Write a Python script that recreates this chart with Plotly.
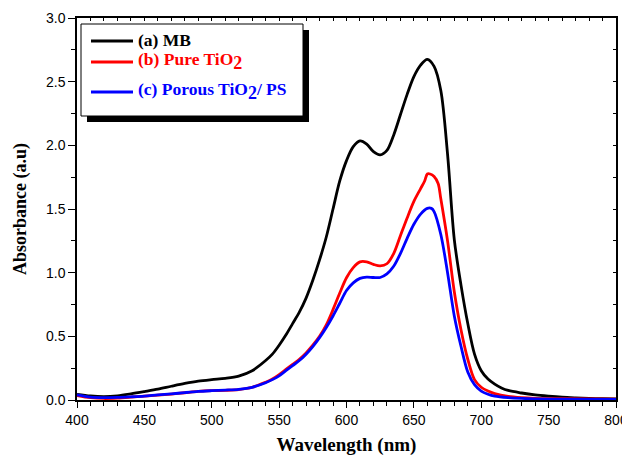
import plotly.graph_objects as go

# wavelength grids (nm) and absorbance values
wl_mb = [400, 410, 420, 430, 440, 450, 460, 470, 480, 490, 500, 510, 520, 530, 540, 545,
         550, 555, 560, 565, 570, 575, 580, 585, 590, 595, 600, 605, 610, 615, 620, 625,
         630, 635, 640, 645, 650, 655, 660, 665, 670, 675, 680, 685, 690, 695, 700, 705,
         710, 715, 720, 730, 740, 750, 760, 770, 780, 790, 800]
abs_mb = [0.045, 0.032, 0.027, 0.033, 0.048, 0.066, 0.085, 0.108, 0.13, 0.148, 0.16, 0.17,
          0.188, 0.23, 0.31, 0.36, 0.43, 0.51, 0.60, 0.69, 0.80, 0.94, 1.10, 1.28, 1.50,
          1.72, 1.88, 1.99, 2.035, 2.01, 1.95, 1.925, 1.96, 2.08, 2.24, 2.40, 2.54, 2.63,
          2.675, 2.62, 2.43, 1.93, 1.26, 0.90, 0.60, 0.36, 0.23, 0.165, 0.125, 0.095, 0.075,
          0.055, 0.04, 0.03, 0.022, 0.017, 0.013, 0.01, 0.008]

wl_pure = [400, 410, 420, 430, 440, 450, 460, 470, 480, 490, 500, 510, 520, 530, 540, 545,
           550, 555, 560, 565, 570, 575, 580, 585, 590, 595, 600, 605, 610, 615, 620, 625,
           630, 635, 640, 645, 650, 655, 658, 660, 662, 665, 668, 670, 675, 680, 685, 690,
           695, 700, 705, 710, 720, 730, 740, 760, 800]
abs_pure = [0.035, 0.018, 0.012, 0.015, 0.022, 0.03, 0.038, 0.047, 0.057, 0.067, 0.073, 0.076,
            0.082, 0.10, 0.14, 0.165, 0.20, 0.24, 0.28, 0.32, 0.37, 0.43, 0.50, 0.59, 0.71,
            0.84, 0.96, 1.04, 1.085, 1.085, 1.065, 1.053, 1.07, 1.15, 1.29, 1.43, 1.56, 1.66,
            1.72, 1.775, 1.775, 1.755, 1.70, 1.58, 1.25, 0.85, 0.55, 0.32, 0.16, 0.10, 0.07,
            0.05, 0.028, 0.018, 0.013, 0.01, 0.006]

wl_porous = [400, 410, 420, 430, 440, 450, 460, 470, 480, 490, 500, 510, 520, 530, 540, 545,
             550, 555, 560, 565, 570, 575, 580, 585, 590, 595, 600, 605, 610, 615, 620, 625,
             630, 635, 640, 645, 650, 655, 660, 663, 665, 670, 675, 680, 685, 690, 695, 700,
             705, 710, 720, 730, 740, 760, 800]
abs_porous = [0.04, 0.022, 0.018, 0.02, 0.025, 0.031, 0.04, 0.048, 0.058, 0.067, 0.073, 0.078,
              0.084, 0.10, 0.135, 0.16, 0.19, 0.23, 0.27, 0.31, 0.36, 0.42, 0.49, 0.57, 0.66,
              0.76, 0.86, 0.92, 0.955, 0.965, 0.962, 0.962, 0.99, 1.05, 1.15, 1.27, 1.38, 1.46,
              1.505, 1.505, 1.48, 1.30, 1.00, 0.66, 0.42, 0.22, 0.12, 0.07, 0.045, 0.03, 0.018,
              0.012, 0.009, 0.007, 0.005]

SUB2 = "<sub><span style='font-size:18px'>2</span></sub>"
labels = ["(a) MB", "(b) Pure TiO" + SUB2, "(c) Porous TiO" + SUB2 + "/ PS"]
colors = ["#000000", "#ff0000", "#0000ff"]

SERIF = "Liberation Serif"
SANS = "Liberation Sans"

# the page body has an 8px margin, so the figure is drawn 8px in from the corner
OFF = 8
FIG_W, FIG_H = 630 - OFF, 456 - OFF
# plot area in screen pixels (used to place the hand-made legend box)
L, T, W, H = 77, 18, 539, 382


def px(x):
    return (x - L) / W


def py(y):
    return (T + H - y) / H


fig = go.Figure()
for wl, ab, lab, col in zip([wl_mb, wl_pure, wl_porous], [abs_mb, abs_pure, abs_porous],
                            labels, colors):
    fig.add_trace(go.Scatter(x=wl, y=ab, mode="lines", name=lab, showlegend=False,
                             line=dict(color=col, width=2.8, shape="spline", smoothing=0.9)))
# invisible trace so that the mirrored top/right axes are drawn
fig.add_trace(go.Scatter(x=[400], y=[0], xaxis="x2", yaxis="y2", mode="markers",
                         marker=dict(opacity=0), showlegend=False, hoverinfo="skip"))

axis_common = dict(showline=True, linecolor="black", linewidth=1.5, showgrid=False,
                   zeroline=False, tickcolor="black", tickwidth=1.2, automargin=False)

# legend: shadow, box, line samples and coloured labels
shapes = [
    dict(type="rect", xref="paper", yref="paper", layer="above",
         x0=px(87), x1=px(309), y0=py(122), y1=py(30),
         fillcolor="black", line=dict(width=0)),
    dict(type="rect", xref="paper", yref="paper", layer="above",
         x0=px(81), x1=px(303), y0=py(116), y1=py(24),
         fillcolor="white", line=dict(color="black", width=1)),
]
annotations = []
for lab, col, yy in zip(labels, colors, [41, 62, 92]):
    shapes.append(dict(type="line", xref="paper", yref="paper", layer="above",
                       x0=px(91), x1=px(133), y0=py(yy), y1=py(yy),
                       line=dict(color=col, width=3)))
    annotations.append(dict(text="<b>" + lab + "</b>", xref="paper", yref="paper",
                            x=px(136), y=py(yy - 1), xanchor="left", yanchor="middle",
                            showarrow=False,
                            font=dict(family=SERIF, size=17.5, color=col)))

fig.update_layout(
    width=FIG_W, height=FIG_H,
    margin=dict(l=L - OFF, r=FIG_W - (L - OFF) - W, t=T - OFF, b=FIG_H - (T - OFF) - H),
    plot_bgcolor="white", paper_bgcolor="white",
    font=dict(family=SANS, size=14, color="black"),
    xaxis=dict(range=[400, 800], tick0=400, dtick=50, ticks="outside", ticklen=6,
               minor=dict(dtick=10, ticks="outside", ticklen=4, tickcolor="black"),
               tickfont=dict(family=SANS, size=14),
               title=dict(text="<b>Wavelength (nm)</b>", font=dict(family=SERIF, size=19),
                          standoff=12),
               **axis_common),
    yaxis=dict(range=[0, 3.0], tick0=0, dtick=0.5, tickformat=".1f", ticks="outside",
               ticklen=7,
               minor=dict(dtick=0.25, ticks="outside", ticklen=4, tickcolor="black"),
               tickfont=dict(family=SANS, size=14),
               title=dict(text="<b>Absorbance (a.u)</b>", font=dict(family=SERIF, size=18),
                          standoff=15),
               **axis_common),
    xaxis2=dict(overlaying="x", side="top", range=[400, 800], tick0=400, dtick=10,
                ticks="inside", ticklen=3, showticklabels=False, **axis_common),
    yaxis2=dict(overlaying="y", side="right", range=[0, 3.0], tick0=0, dtick=0.25,
                ticks="inside", ticklen=3, showticklabels=False, **axis_common),
    shapes=shapes,
    annotations=annotations,
    showlegend=False,
)

fig.write_html("out.html")
